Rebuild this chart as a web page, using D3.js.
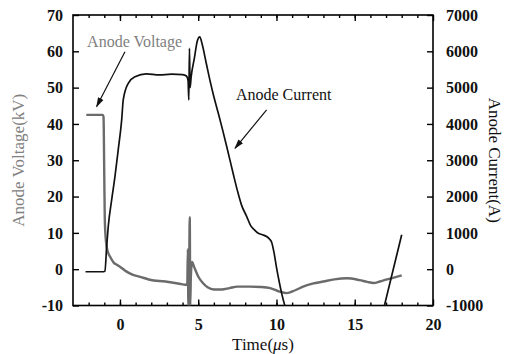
<!DOCTYPE html>
<html>
<head>
<meta charset="utf-8">
<script src="https://cdn.jsdelivr.net/npm/d3@7"></script>
<style>
body { margin: 0; background: #fff; }
text { font-family: "Liberation Serif", "Times New Roman", serif; }
</style>
</head>
<body>
<svg id="chart" width="505" height="354"></svg>
<script>
// anode voltage / current traces

// voltage trace (time in us, kV)
var voltT  = [-2.15, -1.1, -1.05, -1.0, -0.97, -0.92, -0.85, -0.75, -0.6, -0.4, -0.2, 0, 0.4, 0.8, 1.3, 1.9, 2.9, 3.8, 4.2,
              4.3, 4.34, 4.37, 4.42, 4.46, 4.49, 4.53, 4.6, 4.75, 5.0, 5.3, 5.6, 6.0, 6.5, 7.0, 7.5, 8.3, 9.0, 9.6,
              10.2, 10.65, 11.2, 11.7, 12.3, 13.0, 13.7, 14.5, 15.3, 15.8, 16.2, 16.6, 17.0, 17.5, 18.0];
var voltKV = [42.5, 42.5, 42.0, 25, 14, 9, 6.2, 4.5, 3.2, 1.8, 1.2, 0.7, -0.6, -1.5, -2.1, -2.9, -3.4, -4.0, -4.3,
              -4.3, 5.5, -10, 0, 14.3, -10, -2, 2, 0.5, -2, -3.8, -5, -5.6, -5.6, -5.2, -4.8, -4.8, -4.9, -5.2,
              -6.2, -6.6, -5.8, -4.8, -4.0, -3.4, -2.8, -2.5, -3.0, -3.5, -3.8, -3.4, -2.9, -2.3, -1.7];

// current trace (time in us, A), null = off scale
var currT = [-2.2, -1.5, -1.05, -0.96, -0.85, -0.75, -0.53, -0.32, -0.11, 0.11, 0.21, 0.53, 0.96, 1.7, 2.5, 3.3, 4.0, 4.25,
             4.35, 4.4, 4.44, 4.48, 4.55, 4.75, 4.95, 5.1, 5.25, 5.5, 5.75, 6.0, 6.28, 6.55, 6.82, 7.24, 7.5, 7.78,
             8.1, 8.35, 8.6, 8.84, 9.1, 9.37, 9.55, 9.69, 9.85, 10.0, 10.2, 10.35, 10.55, 13.0, 16.88, 18.0];
var currA = [-70, -70, -70, -60, 620, 1170, 1910, 2550, 3290, 4110, 4660, 5120, 5300, 5380, 5350, 5370, 5360, 5320,
             5200, 4660, 6080, 5000, 5300, 5800, 6300, 6400, 6200, 5700, 5200, 4750, 4300, 3850, 3380, 2620, 2170, 1750,
             1450, 1200, 1080, 990, 950, 900, 830, 740, 440, 50, -400, -700, -1030, null, -1030, 950];

var xMajor = [0, 5, 10, 15, 20];
var xMinor = d3.range(-2, 20);
var leftTicks = [-10, 0, 10, 20, 30, 40, 50, 60, 70];
var rightTicks = [-1000, 0, 1000, 2000, 3000, 4000, 5000, 6000, 7000];

var notes = [
  {label: "Anode Voltage", color: "#808080", t: -2.1, v: 61.3, t0: 0.32, v0: 59.9, t1: -1.49, v1: 44.8},
  {label: "Anode Current", color: "#111", t: 7.41, v: 46.6, t0: 9.37, v0: 43.9, t1: 7.35, v1: 33.3}
];

var pL = 73, pR = 433, pT = 15, pB = 305.5;

var svg = d3.select("#chart");

var x = d3.scaleLinear().domain([-3, 20]).range([pL, pR]);
var yV = d3.scaleLinear().domain([-10, 70]).range([pB, pT]);
var yA = d3.scaleLinear().domain([-1000, 7000]).range([pB, pT]);

var defs = svg.append("defs");
defs.append("clipPath").attr("id", "plotclip")
   .append("rect").attr("x", pL).attr("y", pT).attr("width", pR - pL).attr("height", pB - pT);

var marker = defs.append("marker")
   .attr("id", "arrow").attr("viewBox", "0 0 10 10").attr("refX", 9).attr("refY", 5)
   .attr("markerWidth", 10).attr("markerHeight", 10).attr("markerUnits", "userSpaceOnUse")
   .attr("orient", "auto");
marker.append("path").attr("d", "M0,2 L10,5 L0,8 Z").attr("fill", "#111");

var fmt = function(d) { return String(d); };

// minor ticks bottom / top
svg.append("g").attr("transform", "translate(0," + pB + ")")
   .call(d3.axisBottom(x).tickValues(xMinor).tickSizeInner(-3).tickSizeOuter(0).tickFormat(""));
svg.append("g").attr("transform", "translate(0," + pT + ")")
   .call(d3.axisTop(x).tickValues(xMinor).tickSizeInner(-3).tickSizeOuter(0).tickFormat(""));

// major ticks bottom / top
svg.append("g").attr("transform", "translate(0," + pB + ")")
   .call(d3.axisBottom(x).tickValues(xMajor).tickSizeInner(-6).tickSizeOuter(0).tickPadding(13).tickFormat(fmt));
svg.append("g").attr("transform", "translate(0," + pT + ")")
   .call(d3.axisTop(x).tickValues(xMajor).tickSizeInner(-6).tickSizeOuter(0).tickFormat(""));

// left axis (voltage)
svg.append("g").attr("transform", "translate(" + pL + ",0)")
   .call(d3.axisLeft(yV).tickValues(leftTicks).tickSizeInner(-6).tickSizeOuter(0).tickPadding(10).tickFormat(fmt));

// right axis (current)
svg.append("g").attr("transform", "translate(" + pR + ",0)")
   .call(d3.axisRight(yA).tickValues(rightTicks).tickSizeInner(-6).tickSizeOuter(0).tickPadding(13).tickFormat(fmt));

svg.selectAll(".domain").remove();
svg.selectAll(".tick line").attr("stroke", "#000").attr("stroke-width", 1.4);
svg.selectAll(".tick text")
   .attr("font-family", "'Liberation Serif', serif")
   .attr("font-size", 16).attr("font-weight", "bold").attr("fill", "#111");

// frame
svg.append("rect").attr("x", pL).attr("y", pT).attr("width", pR - pL).attr("height", pB - pT)
   .attr("fill", "none").attr("stroke", "#000").attr("stroke-width", 1.6);

// traces
var plot = svg.append("g").attr("clip-path", "url(#plotclip)");

var voltData = voltT.map(function(t, i) { return {t: t, v: voltKV[i]}; });
var currData = currT.map(function(t, i) { return {t: t, a: currA[i]}; });

plot.append("path").datum(voltData)
   .attr("fill", "none").attr("stroke", "#6b6b6b").attr("stroke-width", 2.4).attr("stroke-linejoin", "round")
   .attr("d", d3.line().curve(d3.curveMonotoneX)
      .x(function(d) { return x(d.t); }).y(function(d) { return yV(d.v); }));

plot.append("path").datum(currData)
   .attr("fill", "none").attr("stroke", "#111").attr("stroke-width", 1.7).attr("stroke-linejoin", "round")
   .attr("d", d3.line().curve(d3.curveMonotoneX).defined(function(d) { return d.a !== null; })
      .x(function(d) { return x(d.t); }).y(function(d) { return yA(d.a); }));

// annotations
notes.forEach(function(n) {
  svg.append("text").attr("x", x(n.t)).attr("y", yV(n.v))
     .attr("font-size", 16).attr("fill", n.color).text(n.label);
  svg.append("line")
     .attr("x1", x(n.t0)).attr("y1", yV(n.v0)).attr("x2", x(n.t1)).attr("y2", yV(n.v1))
     .attr("stroke", "#111").attr("stroke-width", 1.2).attr("marker-end", "url(#arrow)");
});

// axis titles
var xt = svg.append("text").attr("x", (pL + pR) / 2 + 10).attr("y", 350)
   .attr("text-anchor", "middle").attr("font-size", 17).attr("fill", "#111");
xt.append("tspan").text("Time(");
xt.append("tspan").attr("font-style", "italic").text("\u03bc");
xt.append("tspan").text("s)");

svg.append("text").attr("transform", "translate(24," + ((pT + pB) / 2) + ") rotate(-90)")
   .attr("text-anchor", "middle").attr("font-size", 17).attr("fill", "#808080").text("Anode Voltage(kV)");

svg.append("text").attr("transform", "translate(489," + ((pT + pB) / 2) + ") rotate(90)")
   .attr("text-anchor", "middle").attr("font-size", 17).attr("fill", "#111").text("Anode Current(A)");
</script>
</body>
</html>
